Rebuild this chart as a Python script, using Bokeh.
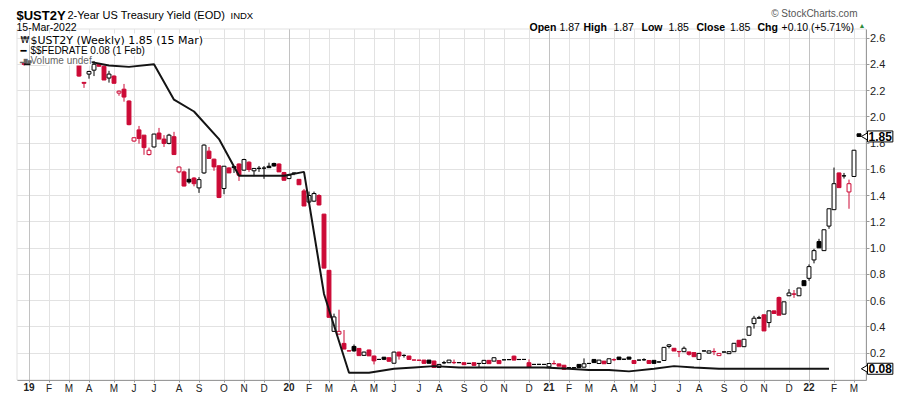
import math
from bokeh.plotting import figure
from bokeh.models import Range1d, FixedTicker, Grid, Label, ColumnDataSource, BoxAnnotation
from bokeh.embed import file_html
from bokeh.resources import INLINE

# ---------------- data (weekly bars, index 0 = week of 31-Dec-2018; None = no data) -------------
opens = [2.405, None, None, None, None, None, None, None, None, None, None,
         2.415, 2.262, 2.325, 2.355, 2.40, 2.385, 2.295, 2.31, 2.18, 2.21,
         2.12, 1.815, 1.90, 1.86, 1.712, 1.77, 1.876, 1.83, 1.797, 1.848,
         1.58, 1.58, 1.523, 1.533, 1.458, 1.572, 1.738, 1.677, 1.626, 1.453,
         1.61, 1.62, 1.64, 1.593, 1.654, 1.588, 1.606, 1.608, 1.623, 1.644,
         1.64, 1.575, 1.529, 1.568, 1.523, 1.435, 1.35, 1.357, 1.40, 1.258,
         0.83, 0.365, 0.344, 0.273, 0.217, 0.25, 0.235, 0.182, 0.223, 0.177,
         0.151, 0.168, 0.164, 0.122, 0.207, 0.182, 0.177, 0.147, 0.146, 0.146,
         0.146, 0.139, 0.09, 0.126, 0.126, 0.128, 0.127, 0.126, 0.121, 0.126,
         0.121, 0.12, 0.144, 0.138, 0.143, 0.148, 0.15, 0.176, 0.15, 0.151,
         0.126, 0.113, 0.114, 0.113, 0.095, 0.12, 0.117, 0.107, 0.088, 0.088,
         0.113, 0.092, 0.121, 0.151, 0.12, 0.138, 0.12, 0.15, 0.169, 0.153,
         0.169, 0.143, 0.146, 0.149, 0.143, 0.144, 0.132, 0.143, 0.25, 0.236,
         0.212, 0.21, 0.208, 0.203, 0.151, 0.216, 0.199, 0.212, 0.18, 0.208,
         0.195, 0.21, 0.297, 0.248, 0.335, 0.424, 0.468, 0.491, 0.432, 0.521,
         0.623, 0.496, 0.636, 0.65, 0.636, 0.751, 0.769, 0.909, 1.049, 0.98,
         1.167, 1.292, 1.572, 1.55, 1.427, 1.545, 1.87]
highs = [2.415, None, None, None, None, None, None, None, None, None, None,
         2.42, 2.262, 2.35, 2.425, 2.41, 2.39, 2.35, 2.315, 2.20, 2.25,
         2.125, 1.845, 1.93, 1.86, 1.765, 1.87, 1.915, 1.86, 1.87, 1.885,
         1.62, 1.59, 1.605, 1.54, 1.54, 1.79, 1.77, 1.68, 1.63, 1.625,
         1.615, 1.625, 1.645, 1.68, 1.66, 1.61, 1.625, 1.625, 1.65, 1.65,
         1.645, 1.58, 1.56, 1.575, 1.525, 1.45, 1.43, 1.43, 1.41, 1.26,
         0.83, 0.50, 0.53, 0.375, 0.22, 0.265, 0.237, 0.21, 0.225, 0.18,
         0.155, 0.17, 0.165, 0.21, 0.21, 0.19, 0.178, 0.148, 0.147, 0.147,
         0.147, 0.14, 0.115, 0.14, 0.147, 0.15, 0.13, 0.127, 0.122, 0.127,
         0.122, 0.147, 0.145, 0.165, 0.144, 0.15, 0.152, 0.18, 0.152, 0.153,
         0.151, 0.115, 0.115, 0.116, 0.122, 0.143, 0.118, 0.108, 0.09, 0.09,
         0.115, 0.159, 0.123, 0.152, 0.147, 0.139, 0.157, 0.159, 0.17, 0.155,
         0.17, 0.144, 0.148, 0.16, 0.144, 0.145, 0.135, 0.245, 0.268, 0.238,
         0.215, 0.25, 0.21, 0.205, 0.199, 0.218, 0.217, 0.236, 0.198, 0.21,
         0.212, 0.276, 0.298, 0.306, 0.40, 0.483, 0.483, 0.493, 0.523, 0.523,
         0.63, 0.59, 0.687, 0.68, 0.697, 0.753, 0.875, 0.994, 1.07, 1.14,
         1.30, 1.613, 1.574, 1.572, 1.521, 1.747, 1.87]
lows = [2.39, None, None, None, None, None, None, None, None, None, None,
        2.305, 2.22, 2.29, 2.31, 2.38, 2.28, 2.26, 2.255, 2.16, 2.115,
        1.935, 1.81, 1.795, 1.71, 1.705, 1.765, 1.83, 1.77, 1.79, 1.71,
        1.57, 1.47, 1.49, 1.47, 1.42, 1.565, 1.68, 1.588, 1.38, 1.41,
        1.572, 1.572, 1.511, 1.59, 1.58, 1.547, 1.58, 1.527, 1.61, 1.62,
        1.58, 1.516, 1.525, 1.555, 1.48, 1.32, 1.34, 1.35, 1.325, 0.845,
        0.47, 0.36, 0.34, 0.23, 0.213, 0.21, 0.18, 0.18, 0.177, 0.113,
        0.148, 0.146, 0.135, 0.12, 0.15, 0.165, 0.15, 0.145, 0.143, 0.121,
        0.121, 0.088, 0.088, 0.115, 0.125, 0.115, 0.124, 0.11, 0.118, 0.105,
        0.09, 0.119, 0.118, 0.137, 0.118, 0.145, 0.147, 0.145, 0.148, 0.149,
        0.09, 0.11, 0.111, 0.11, 0.094, 0.113, 0.1, 0.075, 0.085, 0.085,
        0.087, 0.09, 0.118, 0.126, 0.119, 0.117, 0.119, 0.138, 0.149, 0.15,
        0.152, 0.12, 0.144, 0.14, 0.12, 0.118, 0.128, 0.14, 0.235, 0.215,
        0.169, 0.208, 0.18, 0.172, 0.15, 0.213, 0.197, 0.184, 0.178, 0.205,
        0.193, 0.208, 0.248, 0.246, 0.333, 0.386, 0.462, 0.368, 0.394, 0.501,
        0.488, 0.494, 0.634, 0.62, 0.634, 0.713, 0.75, 0.883, 1.0, 0.978,
        1.146, 1.29, 1.46, 1.529, 1.299, 1.543, 1.85]
closes = [2.40, None, None, None, None, None, None, None, None, None, None,
          2.31, 2.255, 2.345, 2.40, 2.385, 2.28, 2.325, 2.255, 2.195, 2.15,
          1.94, 1.84, 1.835, 1.765, 1.745, 1.868, 1.83, 1.797, 1.86, 1.712,
          1.617, 1.472, 1.503, 1.49, 1.521, 1.784, 1.682, 1.618, 1.385, 1.623,
          1.572, 1.612, 1.555, 1.674, 1.598, 1.606, 1.608, 1.609, 1.612, 1.625,
          1.58, 1.516, 1.555, 1.572, 1.482, 1.32, 1.40, 1.415, 1.328, 0.847,
          0.472, 0.475, 0.365, 0.23, 0.215, 0.216, 0.18, 0.207, 0.178, 0.14,
          0.151, 0.152, 0.137, 0.207, 0.177, 0.181, 0.151, 0.146, 0.144, 0.121,
          0.122, 0.09, 0.113, 0.125, 0.146, 0.126, 0.126, 0.111, 0.121, 0.106,
          0.12, 0.144, 0.119, 0.164, 0.119, 0.148, 0.149, 0.146, 0.151, 0.151,
          0.09, 0.113, 0.113, 0.113, 0.12, 0.118, 0.1, 0.076, 0.087, 0.087,
          0.09, 0.118, 0.12, 0.127, 0.146, 0.118, 0.156, 0.148, 0.15, 0.152,
          0.153, 0.12, 0.146, 0.148, 0.12, 0.121, 0.131, 0.243, 0.262, 0.215,
          0.21, 0.236, 0.19, 0.172, 0.197, 0.215, 0.216, 0.21, 0.197, 0.207,
          0.21, 0.274, 0.248, 0.305, 0.399, 0.465, 0.466, 0.368, 0.521, 0.501,
          0.488, 0.59, 0.657, 0.648, 0.695, 0.713, 0.858, 0.98, 1.001, 1.139,
          1.299, 1.49, 1.46, 1.549, 1.49, 1.745, 1.85]

# $$FEDRATE monthly values, placed on the weekly bar that holds the 1st of each month
fed_x = [0, 4, 8, 13, 17, 21, 26, 30, 34, 39, 43, 47, 52, 56, 60, 65, 69, 74, 78,
         82, 87, 91, 95, 100, 104, 109, 113, 117, 121, 126, 130, 134, 139, 143,
         148, 152, 156, 161]
fed_y = [2.40, 2.40, 2.41, 2.42, 2.39, 2.38, 2.40, 2.13, 2.04, 1.83, 1.55, 1.55,
         1.55, 1.58, 0.65, 0.05, 0.05, 0.08, 0.09, 0.10, 0.09, 0.09, 0.09, 0.09,
         0.09, 0.08, 0.07, 0.07, 0.06, 0.08, 0.10, 0.09, 0.08, 0.08, 0.08, 0.08,
         0.08, 0.08]

month_ticks = [1, 5, 9, 13, 18, 22, 26, 31, 35, 40, 44, 48, 53, 57, 61, 66, 70, 74,
               79, 83, 88, 92, 96, 101, 105, 109, 113, 118, 122, 126, 131, 135,
               140, 144, 148, 153, 157, 162, 166]
month_labels = ["19", "F", "M", "A", "M", "J", "J", "A", "S", "O", "N", "D",
                "20", "F", "M", "A", "M", "J", "J", "A", "S", "O", "N", "D",
                "21", "F", "M", "A", "M", "J", "J", "A", "S", "O", "N", "D",
                "22", "F", "M"]
year_labels = ["19", "20", "21", "22"]
y_ticks = [0.2, 0.4, 0.6, 0.8, 1.0, 1.2, 1.4, 1.6, 1.8, 2.0, 2.2, 2.4, 2.6]
y_labels = ["0.2", "0.4", "0.6", "0.8", "1.0", "1.2", "1.4", "1.6", "1.8", "2.0",
            "2.2", "2.4", "2.6"]

# ---------------- geometry (page pixels -> data) ----------------
W, H = 900, 396
PX_BAR = 5.0            # pixels per weekly bar
PX_UNIT = 131.25        # pixels per 1.0 of yield
BAR0_PX = 23.5          # page x of bar 0
Y26_PX = 37.5           # page y of the 2.6 gridline
RED = "#cc0a36"
BLK = "#000000"


def sx(px):
    return (px - BAR0_PX) / PX_BAR


def sy(py):
    return 2.6 - (py - Y26_PX) / PX_UNIT


# plot-area box (the visible chart panel)
X0, X1 = sx(16.5), sx(865.5)
Y0, Y1 = sy(379.5), sy(28.5)

# ---------------- candles ----------------
cx, lo_, hi_, tp, bt, col, fil = [], [], [], [], [], [], []
prev = None
for i, (o, h, l, c) in enumerate(zip(opens, highs, lows, closes)):
    if o is None:
        continue
    ref = prev if prev is not None else o
    colr = BLK if c >= ref else RED
    hollow = c > o
    cx.append(i)
    lo_.append(l)
    hi_.append(h)
    tp.append(max(o, c))
    bt.append(min(o, c))
    col.append(colr)
    fil.append("white" if hollow else colr)
    prev = c

src = ColumnDataSource(dict(x=cx, low=lo_, high=hi_, top=tp, bottom=bt, color=col, fill=fil))

p = figure(width=W, height=H, output_backend="svg", toolbar_location=None,
           x_range=Range1d(sx(0), sx(W)), y_range=Range1d(sy(H), sy(0)),
           y_axis_location="right", min_border=0)
p.background_fill_color = "white"
p.border_fill_color = "white"
p.outline_line_color = None

# axes, pinned to the edges of the chart panel
xa = p.xaxis[0]
xa.fixed_location = Y0
xa.bounds = (X0, X1)
xa.ticker = FixedTicker(ticks=month_ticks)
xa.major_label_overrides = {t: ("" if lab in year_labels else lab)
                            for t, lab in zip(month_ticks, month_labels)}
xa.major_label_text_font = "Liberation Sans"
xa.major_label_text_font_size = "10px"
xa.major_label_text_color = "#222222"
xa.axis_line_color = "#9a9a9a"
xa.major_tick_line_color = "#9a9a9a"
xa.major_tick_in = 0
xa.major_tick_out = 2
xa.minor_tick_line_color = None
xa.major_label_standoff = 1

ya = p.yaxis[0]
ya.fixed_location = X1
ya.bounds = (Y0, Y1)
ya.ticker = FixedTicker(ticks=y_ticks)
ya.major_label_overrides = {t: lab for t, lab in zip(y_ticks, y_labels)}
ya.major_label_text_font = "Liberation Sans"
ya.major_label_text_font_size = "11px"
ya.major_label_text_color = "#222222"
ya.axis_line_color = "#9a9a9a"
ya.major_tick_line_color = "#9a9a9a"
ya.major_tick_in = 0
ya.major_tick_out = 3
ya.minor_tick_line_color = None
ya.major_label_standoff = 1

# grids, limited to the chart panel
p.xgrid.ticker = FixedTicker(ticks=month_ticks)
p.xgrid.grid_line_color = "#e2e2e2"
p.xgrid.cross_bounds = (Y0, Y1)
p.ygrid.grid_line_color = "#e2e2e2"
p.ygrid.cross_bounds = (X0, X1)
year_ticks = [t for t, lab in zip(month_ticks, month_labels) if lab in year_labels]
p.add_layout(Grid(dimension=0, ticker=FixedTicker(ticks=year_ticks), grid_line_color="#c2c2c2",
                  cross_bounds=(Y0, Y1)))

# panel outline
p.add_layout(BoxAnnotation(left=X0, right=X1, bottom=Y0, top=Y1, fill_color=None,
                           line_color="#9a9a9a", line_width=1, level="underlay"))

# candles
p.segment(x0="x", y0="low", x1="x", y1="high", line_color="color", line_width=1, source=src)
p.vbar(x="x", width=0.78, top="top", bottom="bottom", fill_color="fill",
       line_color="color", line_width=1, source=src)

# fed rate line
p.line(fed_x, fed_y, line_color="#141414", line_width=2)


# ---------------- texts ----------------
def lab(text, px, py, size, bold=False, color="#000000", font="Liberation Sans",
        align="left", baseline="alphabetic", bg=None, **kw):
    L = Label(x=sx(px), y=sy(py), text=text, text_font=font, text_font_size=size,
              text_font_style="bold" if bold else "normal", text_color=color,
              text_align=align, text_baseline=baseline, level="overlay", **kw)
    if bg is not None:
        L.background_fill_color = bg
    p.add_layout(L)
    return L


# header
lab("$UST2Y", 16, 14.5, "13px", bold=True)
lab("2-Year US Treasury Yield (EOD)", 67, 14.5, "11px")
lab("INDX", 230, 14.5, "9.5px")
lab("15-Mar-2022", 16, 26, "10.5px")
lab("\u00a9 StockCharts.com", 857, 12.5, "10px", color="#555555", align="right")
hdr = [("Open", 529, True), ("1.87", 559, False), ("High", 583, True), ("1.87", 613, False),
       ("Low", 641, True), ("1.85", 668, False), ("Close", 696, True), ("1.85", 729.5, False),
       ("Chg", 757, True), ("+0.10 (+5.71%)", 781, False)]
for t, x, b in hdr:
    lab(t, x, 26, "10.5px", bold=b)
lab("\u25b2", 858, 25, "7px", color="#2e8b3a")

# in-chart legend
lab("$UST2Y (Weekly) 1.85 (15 Mar)", 30, 39.5, "11px", font="DejaVu Sans", bg="white")
lab("\u20a9", 20, 39.5, "9px", font="DejaVu Sans", bg="white")
lab("\u2501", 20, 50, "10px", font="DejaVu Sans", bg="white")
lab("$$FEDRATE 0.08 (1 Feb)", 30, 50, "10px", bg="white")
lab("Volume undef", 30, 59.5, "10px", color="#666666", bg="white")
lab("\u2582\u2586\u2584", 19.5, 59, "5px", font="DejaVu Sans", color="#666666")

# bold year labels on the time axis
for t, labl in zip(month_ticks, month_labels):
    if labl in year_labels:
        p.add_layout(Label(x=t, y=sy(382), text=labl,
                           text_font="Liberation Sans", text_font_size="10px",
                           text_font_style="bold", text_color="#222222",
                           text_align="center", text_baseline="top", level="overlay"))

# value tags on the price axis (arrow-shaped boxes)
tag_vals = [closes[-1], fed_y[-1]]
for val in tag_vals:
    p.add_layout(Label(x=sx(867), y=val, text="%.2f" % val, text_font="Liberation Sans",
                       text_font_size="12px", text_font_style="bold", text_color="black",
                       text_align="left", text_baseline="middle",
                       background_fill_color="white", border_line_color="black",
                       border_line_width=1, padding=1, level="overlay"))
arrow = p.scatter(x=[sx(865.5)] * len(tag_vals), y=tag_vals, marker="triangle",
                  angle=math.pi / 2, size=8, fill_color="white", line_color="black",
                  line_width=1)
arrow.level = "overlay"

open("out.html", "w").write(file_html(p, INLINE))
